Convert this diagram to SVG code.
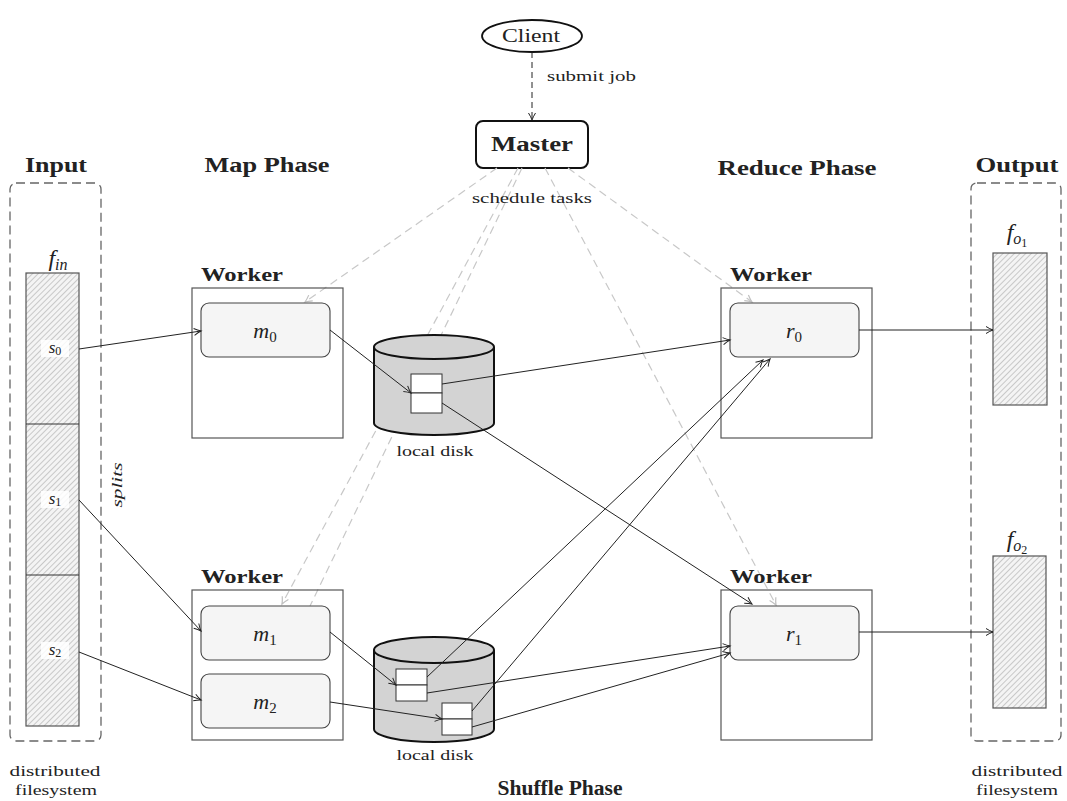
<svg xmlns="http://www.w3.org/2000/svg" width="1067" height="801" viewBox="0 0 1067 801">
<style>
text{font-family:"Liberation Serif","Times New Roman",serif;fill:#222}
.title{font-weight:bold;font-size:20px;text-anchor:middle}
.wk{font-weight:bold;font-size:19px}
.lbl{font-size:15px;text-anchor:middle}
.math{font-style:italic;font-size:22px;text-anchor:middle}
.fmath{font-style:italic;font-size:24px;text-anchor:middle}
.smath{font-style:italic;font-size:17px;text-anchor:middle}
.cont{fill:none;stroke:#666;stroke-width:1.3;stroke-dasharray:9 5}
.file{fill:url(#hatch);stroke:#555;stroke-width:1.2}
.worker{fill:none;stroke:#555;stroke-width:1.2}
.task{fill:#f5f5f5;stroke:#444;stroke-width:1.1}
.sched{fill:none;stroke:#c8c8c8;stroke-width:1.2;stroke-dasharray:8 5}
.conn{fill:none;stroke:#222;stroke-width:1}
.disk{fill:#d3d3d3;stroke:#111;stroke-width:2}
.cell{fill:#fff;stroke:#333;stroke-width:1}
.sbg{fill:#fff;fill-opacity:0.85}
</style>
<defs>
<pattern id="hatch" patternUnits="userSpaceOnUse" width="4" height="4" patternTransform="rotate(45)">
<rect width="4" height="4" fill="#f4f4f4"/>
<line x1="0" y1="0" x2="0" y2="4" stroke="#b5b5b5" stroke-width="1.4"/>
</pattern>
<marker id="arr" markerUnits="userSpaceOnUse" markerWidth="12" markerHeight="10" refX="10" refY="5" orient="auto" viewBox="0 0 12 10">
<path d="M3,1.5 Q7,4 10,5 Q7,6 3,8.5" fill="none" stroke="#222" stroke-width="1"/>
</marker>
<marker id="garr" markerUnits="userSpaceOnUse" markerWidth="12" markerHeight="10" refX="10" refY="5" orient="auto" viewBox="0 0 12 10">
<path d="M3,1.5 Q7,4 10,5 Q7,6 3,8.5" fill="none" stroke="#c0c0c0" stroke-width="1.2"/>
</marker>
</defs>

<g id="titles">
<text class="title" x="56" y="172" textLength="62" lengthAdjust="spacingAndGlyphs">Input</text>
<text class="title" x="267" y="172" textLength="125" lengthAdjust="spacingAndGlyphs">Map Phase</text>
<text class="title" x="797" y="175" textLength="159" lengthAdjust="spacingAndGlyphs">Reduce Phase</text>
<text class="title" x="1017" y="172" textLength="83" lengthAdjust="spacingAndGlyphs">Output</text>
<text class="title" x="560" y="795" textLength="125" lengthAdjust="spacingAndGlyphs">Shuffle Phase</text>
</g>

<g id="input">
<rect class="cont" x="10" y="183" width="91" height="558" rx="6"/>
<text class="fmath" x="58" y="266">f<tspan font-size="16" dy="4">in</tspan></text>
<rect class="file" x="26" y="273" width="53" height="453"/>
<line x1="26" y1="424" x2="79" y2="424" stroke="#333" stroke-width="1.2"/>
<line x1="26" y1="575" x2="79" y2="575" stroke="#333" stroke-width="1.2"/>
<rect class="sbg" x="41" y="340" width="28" height="17"/>
<rect class="sbg" x="41" y="491" width="28" height="17"/>
<rect class="sbg" x="41" y="642" width="28" height="17"/>
<text class="smath" x="55" y="353">s<tspan font-style="normal" font-size="12" dy="2">0</tspan></text>
<text class="smath" x="55" y="504">s<tspan font-style="normal" font-size="12" dy="2">1</tspan></text>
<text class="smath" x="55" y="655">s<tspan font-style="normal" font-size="12" dy="2">2</tspan></text>
<text class="lbl" font-style="italic" transform="translate(122,485) rotate(-90)" textLength="45" lengthAdjust="spacingAndGlyphs">splits</text>
<text class="lbl" x="55" y="776" textLength="91" lengthAdjust="spacingAndGlyphs">distributed</text>
<text class="lbl" x="56" y="795" textLength="82" lengthAdjust="spacingAndGlyphs">filesystem</text>
</g>

<g id="output">
<rect class="cont" x="971" y="183" width="90" height="558" rx="6"/>
<text class="fmath" x="1017" y="240">f<tspan font-size="16" dy="4">o</tspan><tspan font-style="normal" font-size="12" dy="3">1</tspan></text>
<rect class="file" x="993" y="253" width="54" height="152"/>
<text class="fmath" x="1017" y="547">f<tspan font-size="16" dy="4">o</tspan><tspan font-style="normal" font-size="12" dy="3">2</tspan></text>
<rect class="file" x="993" y="556" width="53" height="152"/>
<text class="lbl" x="1017" y="776" textLength="91" lengthAdjust="spacingAndGlyphs">distributed</text>
<text class="lbl" x="1017" y="795" textLength="82" lengthAdjust="spacingAndGlyphs">filesystem</text>
</g>

<g id="client">
<ellipse cx="532" cy="36" rx="50" ry="16" fill="#fff" stroke="#111" stroke-width="1.8"/>
<text x="531" y="42" font-size="19" text-anchor="middle" textLength="58" lengthAdjust="spacingAndGlyphs">Client</text>
</g>

<g id="master">
<rect x="476" y="121" width="112" height="47" rx="7" fill="#fff" stroke="#111" stroke-width="2"/>
<text x="532" y="151" font-size="20" font-weight="bold" text-anchor="middle" textLength="82" lengthAdjust="spacingAndGlyphs">Master</text>
</g>

<g id="schedule">
<line class="sched" x1="497" y1="168" x2="305" y2="302" marker-end="url(#garr)"/>
<line class="sched" x1="518" y1="168" x2="282" y2="604" marker-end="url(#garr)"/>
<line class="sched" x1="522" y1="168" x2="310" y2="606"/>
<line class="sched" x1="545" y1="168" x2="776" y2="605" marker-end="url(#garr)"/>
<line class="sched" x1="568" y1="168" x2="752" y2="302" marker-end="url(#garr)"/>
<text class="lbl" x="532" y="203" textLength="120" lengthAdjust="spacingAndGlyphs">schedule tasks</text>
</g>

<g id="worker-m0">
<rect class="worker" x="192" y="288" width="151" height="150"/>
<text class="wk" x="201" y="281" textLength="82" lengthAdjust="spacingAndGlyphs">Worker</text>
<rect class="task" x="201" y="303" width="129" height="54" rx="8"/>
<text class="math" x="265" y="338">m<tspan font-style="normal" font-size="15" dy="4">0</tspan></text>
</g>

<g id="worker-m12">
<rect class="worker" x="192" y="590" width="151" height="150"/>
<text class="wk" x="201" y="583" textLength="82" lengthAdjust="spacingAndGlyphs">Worker</text>
<rect class="task" x="201" y="606" width="129" height="54" rx="8"/>
<text class="math" x="265" y="641">m<tspan font-style="normal" font-size="15" dy="4">1</tspan></text>
<rect class="task" x="201" y="674" width="129" height="54" rx="8"/>
<text class="math" x="265" y="709">m<tspan font-style="normal" font-size="15" dy="4">2</tspan></text>
</g>

<g id="worker-r0">
<rect class="worker" x="721" y="288" width="151" height="150"/>
<text class="wk" x="730" y="281" textLength="82" lengthAdjust="spacingAndGlyphs">Worker</text>
<rect class="task" x="730" y="303" width="129" height="54" rx="8"/>
<text class="math" x="794" y="338">r<tspan font-style="normal" font-size="15" dy="4">0</tspan></text>
</g>

<g id="worker-r1">
<rect class="worker" x="721" y="590" width="151" height="150"/>
<text class="wk" x="730" y="583" textLength="82" lengthAdjust="spacingAndGlyphs">Worker</text>
<rect class="task" x="730" y="606" width="129" height="54" rx="8"/>
<text class="math" x="794" y="641">r<tspan font-style="normal" font-size="15" dy="4">1</tspan></text>
</g>

<g id="disk1">
<path class="disk" d="M374,347 L374,423 A60,12 0 0 0 494,423 L494,347"/>
<ellipse class="disk" cx="434" cy="347" rx="60" ry="12"/>
<rect class="cell" x="411" y="374" width="31" height="19"/>
<rect class="cell" x="411" y="393" width="31" height="20"/>
<text class="lbl" x="435" y="456" textLength="77" lengthAdjust="spacingAndGlyphs">local disk</text>
</g>

<g id="disk2">
<path class="disk" d="M374,650 L374,729 A60,13 0 0 0 494,729 L494,650"/>
<ellipse class="disk" cx="434" cy="650" rx="60" ry="13"/>
<rect class="cell" x="396" y="669" width="31" height="16"/>
<rect class="cell" x="396" y="685" width="31" height="16"/>
<rect class="cell" x="442" y="703" width="30" height="16"/>
<rect class="cell" x="442" y="719" width="30" height="16"/>
<text class="lbl" x="435" y="760" textLength="77" lengthAdjust="spacingAndGlyphs">local disk</text>
</g>

<g id="connectors">
<line class="conn" x1="532" y1="52" x2="532" y2="120" stroke-dasharray="6 4" stroke-width="1.3" marker-end="url(#arr)"/>
<text x="547" y="81" font-size="15" textLength="89" lengthAdjust="spacingAndGlyphs">submit job</text>
<line class="conn" x1="79" y1="349" x2="201" y2="331" marker-end="url(#arr)"/>
<line class="conn" x1="79" y1="500" x2="201" y2="631" marker-end="url(#arr)"/>
<line class="conn" x1="79" y1="652" x2="201" y2="700" marker-end="url(#arr)"/>
<line class="conn" x1="330" y1="330" x2="411" y2="393" marker-end="url(#arr)"/>
<line class="conn" x1="442" y1="384" x2="730" y2="340" marker-end="url(#arr)"/>
<line class="conn" x1="442" y1="403" x2="752" y2="604" marker-end="url(#arr)"/>
<line class="conn" x1="330" y1="632" x2="396" y2="685" marker-end="url(#arr)"/>
<line class="conn" x1="330" y1="702" x2="442" y2="719" marker-end="url(#arr)"/>
<line class="conn" x1="427" y1="677" x2="763" y2="360" marker-end="url(#arr)"/>
<line class="conn" x1="472" y1="711" x2="770" y2="359" marker-end="url(#arr)"/>
<line class="conn" x1="427" y1="693" x2="730" y2="646" marker-end="url(#arr)"/>
<line class="conn" x1="472" y1="727" x2="730" y2="653" marker-end="url(#arr)"/>
<line class="conn" x1="859" y1="330" x2="993" y2="330" marker-end="url(#arr)"/>
<line class="conn" x1="859" y1="632" x2="993" y2="632" marker-end="url(#arr)"/>
</g>
</svg>
